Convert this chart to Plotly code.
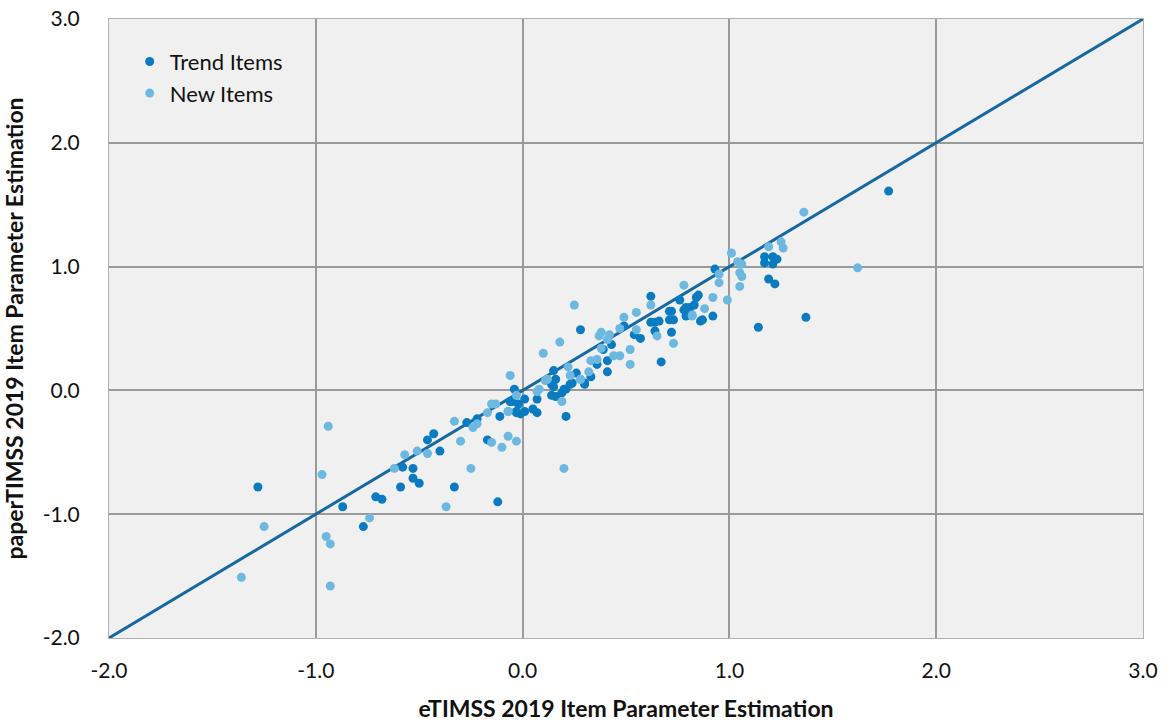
import plotly.graph_objects as go

# Trend items (eTIMSS x, paperTIMSS y)
trend_x = [-1.28, -0.87, -0.77, -0.71, -0.68, -0.59, -0.53, -0.53, -0.50, -0.58, -0.46, -0.43, -0.40,
           -0.33, -0.27, -0.22, -0.17, -0.11, -0.12, -0.06, -0.03, -0.04, -0.05, 0.01, -0.02, -0.03,
           0.01, -0.01, 0.05, 0.07, 0.07, 0.14, 0.16, 0.19, 0.21, 0.15, 0.23, 0.30, 0.21,
           0.28, 0.15, 0.16, 0.14, 0.26, 0.30, 0.24, 0.20, 0.33, 0.36, 0.41, 0.41, 0.39, 0.43,
           0.49, 0.54, 0.57, 0.62, 0.62, 0.64, 0.66, 0.64, 0.72, 0.67, 0.71, 0.73, 0.71, 0.72,
           0.76, 0.78, 0.79, 0.83, 0.86, 0.79, 0.81, 0.85, 0.84, 0.79, 0.87, 0.92, 0.93,
           1.19, 1.22, 1.14, 1.37, 1.17, 1.17, 1.21, 1.23, 1.21, 1.77]
trend_y = [-0.78, -0.94, -1.10, -0.86, -0.88, -0.78, -0.63, -0.71, -0.75, -0.62, -0.40, -0.35, -0.49,
           -0.78, -0.26, -0.23, -0.40, -0.21, -0.90, -0.09, -0.18, 0.01, -0.09, -0.07, -0.11, -0.17,
           -0.17, -0.19, -0.15, -0.18, -0.07, -0.04, -0.05, -0.02, -0.21, 0.03, 0.05, 0.05, 0.01,
           0.49, 0.16, 0.09, 0.05, 0.14, 0.06, 0.06, 0.01, 0.11, 0.21, 0.24, 0.15, 0.33, 0.37,
           0.52, 0.45, 0.42, 0.55, 0.76, 0.55, 0.56, 0.48, 0.47, 0.23, 0.57, 0.57, 0.64, 0.64,
           0.73, 0.65, 0.67, 0.69, 0.56, 0.65, 0.67, 0.77, 0.75, 0.60, 0.57, 0.60, 0.98,
           0.90, 0.86, 0.51, 0.59, 1.08, 1.03, 1.08, 1.06, 1.02, 1.61]

# New items
new_x = [-0.94, -0.97, -1.25, -1.36, -0.95, -0.93, -0.93, -0.74, -0.57, -0.62, -0.51, -0.46, -0.33,
         -0.30, -0.25, -0.37, -0.24, -0.22, -0.17, -0.15, -0.13, -0.15, -0.10, -0.07, -0.07, -0.03,
         -0.07, -0.03, 0.07, 0.11, 0.28, 0.19, 0.20, -0.06, 0.10, 0.18, 0.25, 0.12, 0.08, 0.22,
         0.23, 0.28, 0.32, 0.33, 0.36, 0.38, 0.44, 0.47, 0.52, 0.52, 0.41, 0.38, 0.37, 0.42,
         0.47, 0.49, 0.55, 0.55, 0.62, 0.65, 0.73, 0.78, 0.82, 0.82, 0.92, 0.99, 0.88, 0.95,
         0.95, 1.01, 1.04, 1.06, 1.05, 1.06, 1.05, 1.62, 1.19, 1.25, 1.26, 1.36]
new_y = [-0.29, -0.68, -1.10, -1.51, -1.18, -1.24, -1.58, -1.03, -0.52, -0.63, -0.49, -0.51, -0.25,
         -0.41, -0.63, -0.94, -0.30, -0.27, -0.18, -0.11, -0.11, -0.42, -0.46, -0.37, -0.17, -0.41,
         -0.17, -0.04, -0.01, 0.08, 0.09, -0.09, -0.63, 0.12, 0.30, 0.39, 0.69, 0.09, 0.01, 0.19,
         0.12, 0.09, 0.15, 0.24, 0.25, 0.34, 0.28, 0.28, 0.33, 0.21, 0.41, 0.47, 0.44, 0.45,
         0.50, 0.59, 0.49, 0.63, 0.69, 0.44, 0.38, 0.85, 0.61, 0.60, 0.75, 0.73, 0.66, 0.94,
         0.87, 1.11, 1.04, 1.02, 0.95, 0.92, 0.84, 0.99, 1.16, 1.20, 1.15, 1.44]

line_x = [-2, 3]
line_y = [-2, 3]
ticks = [-2, -1, 0, 1, 2, 3]
tick_text = ["-2.0", "-1.0", "0.0", "1.0", "2.0", "3.0"]

fig = go.Figure()
fig.add_trace(go.Scatter(x=line_x, y=line_y, mode="lines", line=dict(color="#1568A0", width=3),
                         showlegend=False, hoverinfo="skip"))
fig.add_trace(go.Scatter(x=trend_x, y=trend_y, mode="markers", name="Trend Items",
                         marker=dict(color="#0A7BC0", size=9)))
fig.add_trace(go.Scatter(x=new_x, y=new_y, mode="markers", name="New Items",
                         marker=dict(color="#6DB8E0", size=9)))

font_family = "Lato, 'Open Sans', sans-serif"
fig.update_layout(
    width=1168, height=722,
    margin=dict(l=109, r=25, t=19, b=84),
    paper_bgcolor="white", plot_bgcolor="#F0F0F0",
    font=dict(family=font_family, size=21, color="#111"),
    legend=dict(x=0.02, y=0.965, xanchor="left", yanchor="top", bgcolor="rgba(0,0,0,0)",
                font=dict(size=22), itemsizing="trace", tracegroupgap=0),
    xaxis=dict(range=[-2, 3], tickvals=ticks, ticktext=tick_text, showgrid=True,
               gridcolor="#9A9A9A", gridwidth=1.5, zeroline=False, showline=True, mirror=True,
               linecolor="#B0B0B0", linewidth=1, ticks="", ticklabelstandoff=14, automargin=False,
               title=dict(text="<b>eTIMSS 2019 Item Parameter Estimation</b>", standoff=20,
                          font=dict(size=23))),
    yaxis=dict(range=[-2, 3], tickvals=ticks, ticktext=tick_text, showgrid=True,
               gridcolor="#9A9A9A", gridwidth=1.5, zeroline=False, showline=True, mirror=True,
               linecolor="#B0B0B0", linewidth=1, ticks="", ticklabelstandoff=24, automargin=False,
               title=dict(text="<b>paperTIMSS 2019 Item Parameter Estimation</b>", standoff=14,
                          font=dict(size=23))),
)
fig.write_html("out.html")
